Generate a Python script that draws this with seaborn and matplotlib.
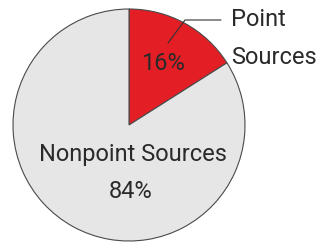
import matplotlib
matplotlib.use("Agg")
import matplotlib.pyplot as plt
import seaborn as sns

categories = ["Point Sources", "Nonpoint Sources"]
values = [16, 84]
colors = ["#e31e24", "#e6e6e6"]

sns.set_theme(style="white")
plt.rcParams['font.family'] = ['Roboto', 'DejaVu Sans']

fig = plt.figure(figsize=(3.2, 2.42), dpi=100)
ax = fig.add_axes([0, 0, 1, 1])
ax.set_xlim(0, 320)
ax.set_ylim(0, 242)
ax.set_aspect('equal')
ax.axis('off')

cx, cy, r = 129, 242 - 125, 116
ax.pie(values, colors=colors, startangle=90, counterclock=False,
       center=(cx, cy), radius=r,
       wedgeprops=dict(edgecolor="#4a4a4a", linewidth=0.8))
ax.set_xlim(0, 320)
ax.set_ylim(0, 242)

txt = "#2a2a2a"
fs = 17
kw = dict(fontsize=fs, color=txt, fontweight='normal')
ax.text(163, 242 - 63, f"{values[0]}%", ha='center', va='center', **kw)
ax.text(133, 242 - 155, categories[1], ha='center', va='center', **kw)
ax.text(131, 242 - 192, f"{values[1]}%", ha='center', va='center', **kw)
ax.text(231, 242 - 20, "Point", ha='left', va='center', **kw)
ax.text(231, 242 - 58, "Sources", ha='left', va='center', **kw)
ax.plot([168, 185, 221], [242 - 43, 242 - 20, 242 - 20], color="#333333", lw=0.8)

fig.savefig("out.png", dpi=100)
